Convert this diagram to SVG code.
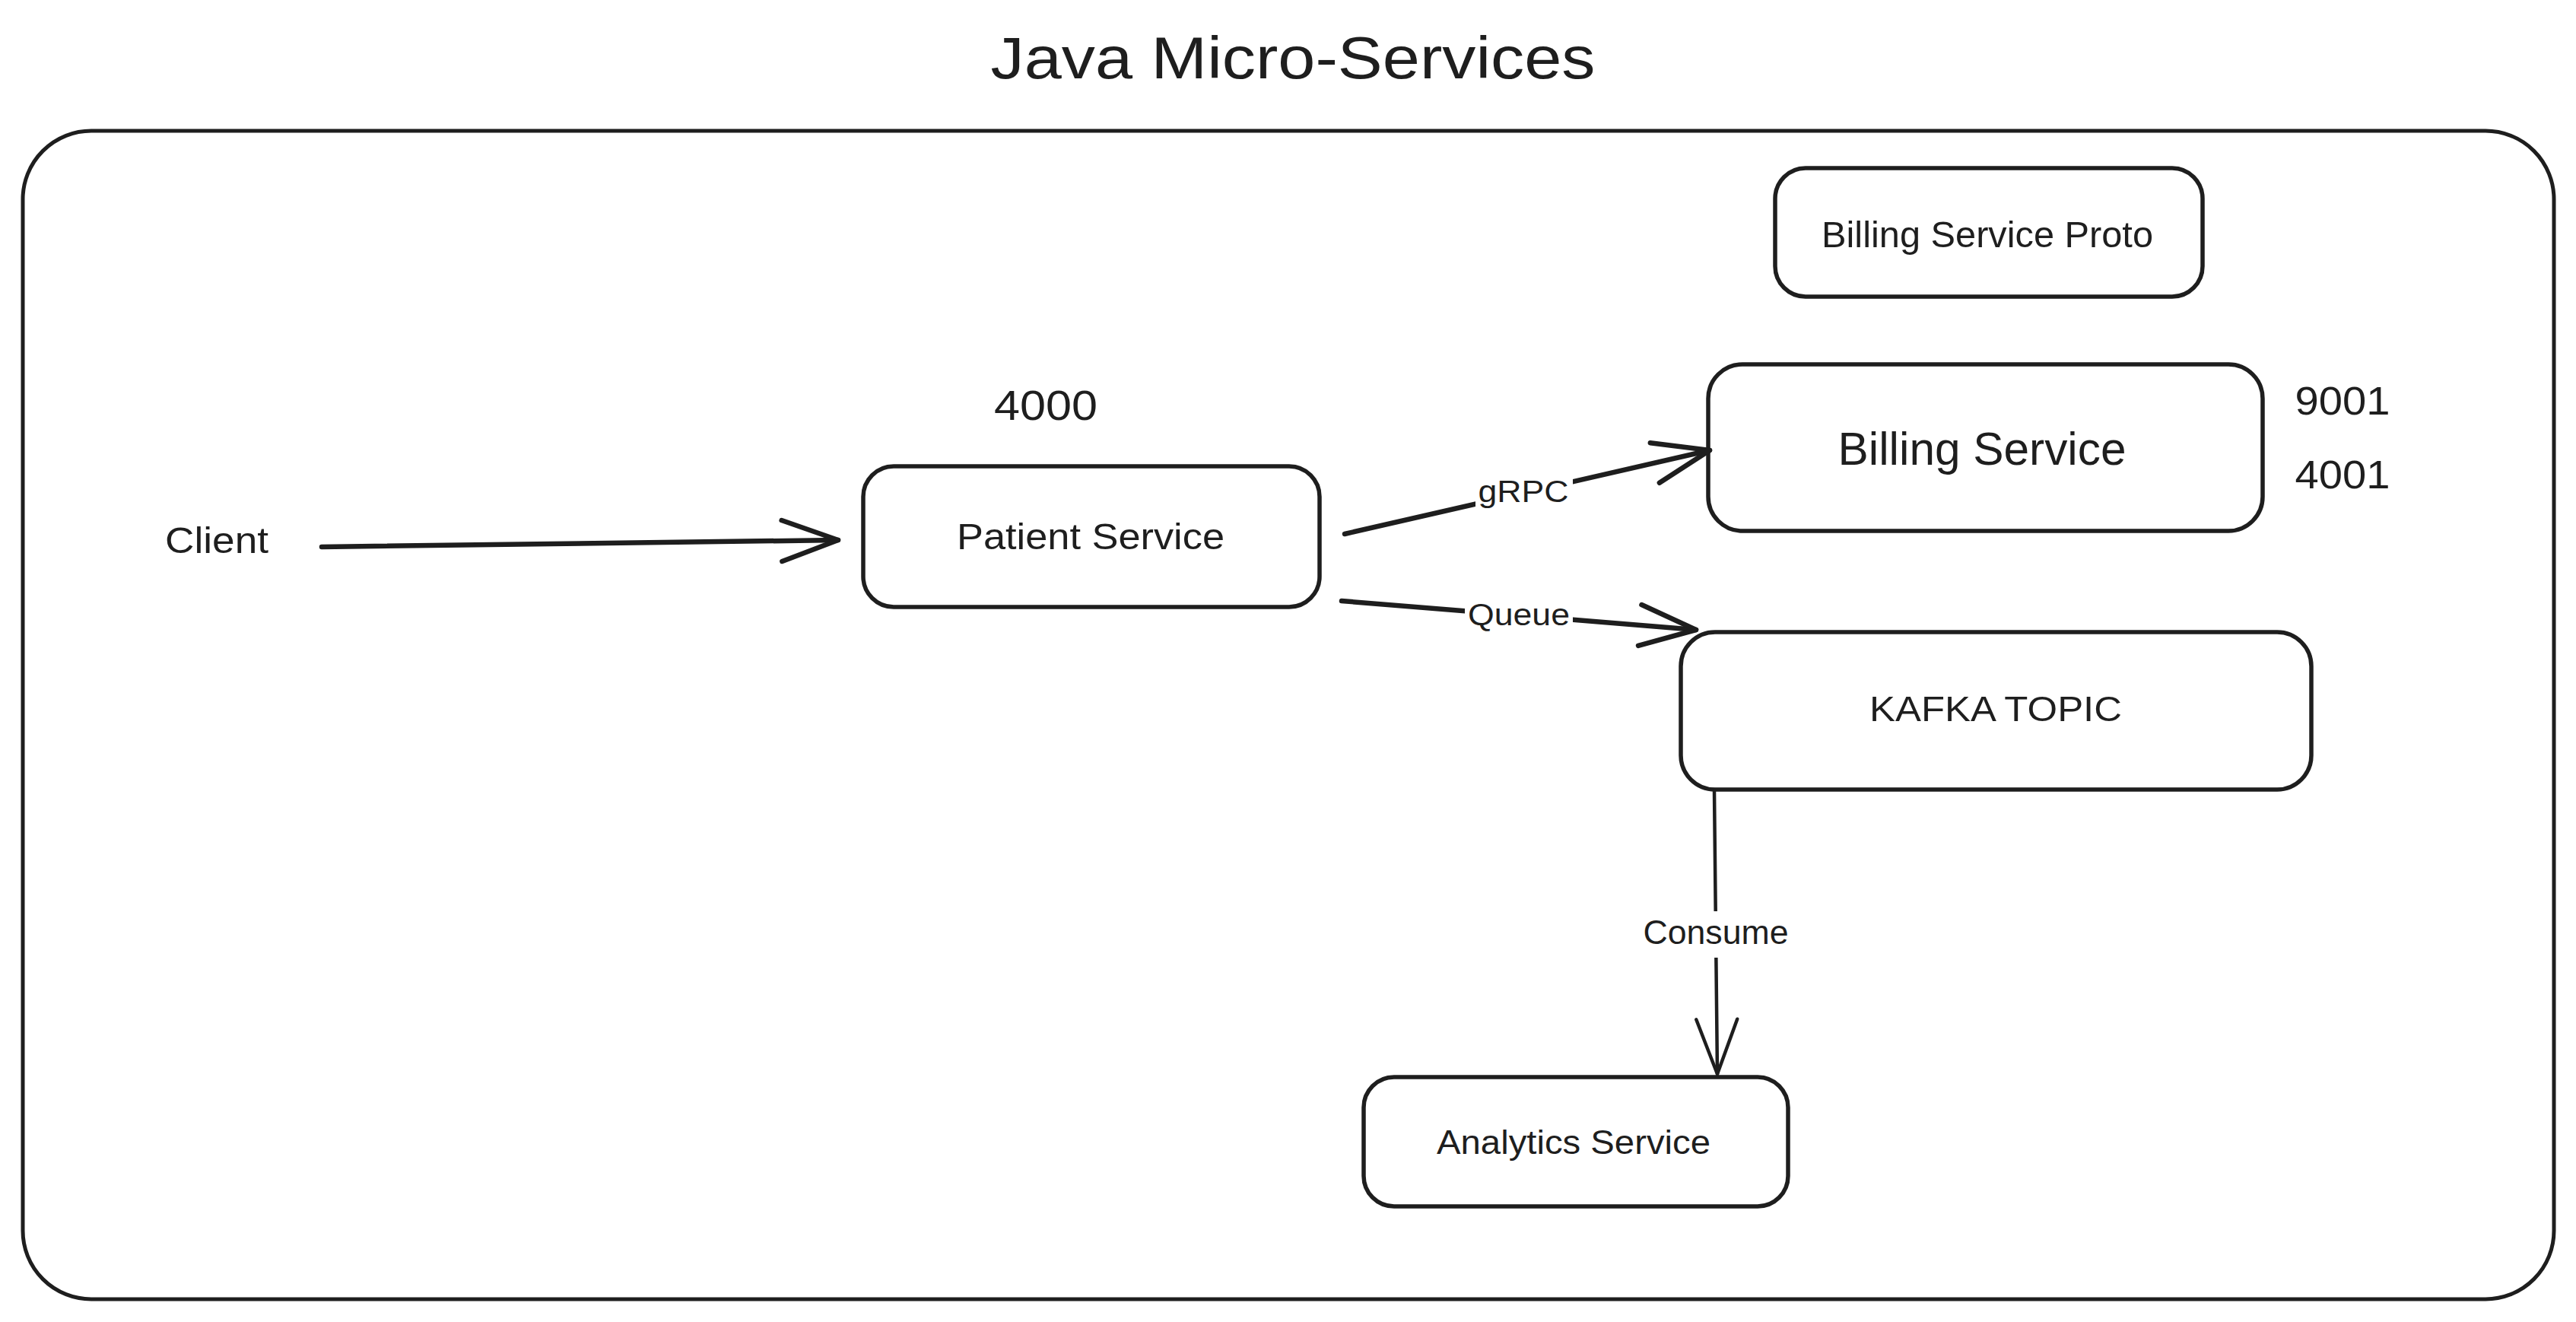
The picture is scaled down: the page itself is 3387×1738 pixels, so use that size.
<svg xmlns="http://www.w3.org/2000/svg" width="3387" height="1738" viewBox="0 0 3387 1738">
<style>
.bx{fill:none;stroke:#1e1e1e;stroke-width:5.5}
.fr{fill:none;stroke:#1e1e1e;stroke-width:5}
.t{font-family:"Liberation Sans","DejaVu Sans",sans-serif;fill:#1e1e1e;text-anchor:middle}
.ln{fill:none;stroke:#1e1e1e;stroke-width:6.5;stroke-linecap:round}
.lnt{fill:none;stroke:#1e1e1e;stroke-width:4.5;stroke-linecap:round}
.gap{fill:#ffffff;stroke:none}
</style>
<defs>
<marker id="arr" viewBox="-90 -40 100 80" refX="0" refY="0" markerWidth="100" markerHeight="80" markerUnits="userSpaceOnUse" orient="auto" overflow="visible">
<path d="M-74,-27 L0,0 L-74,27" fill="none" stroke="#1e1e1e" stroke-width="6.5" stroke-linecap="round" stroke-linejoin="round"/>
</marker>
<marker id="arrt" viewBox="-90 -40 100 80" refX="0" refY="0" markerWidth="100" markerHeight="80" markerUnits="userSpaceOnUse" orient="auto" overflow="visible">
<path d="M-72,-27 L0,0 L-72,27" fill="none" stroke="#1e1e1e" stroke-width="4.5" stroke-linecap="round" stroke-linejoin="round"/>
</marker>
</defs>
<rect width="3387" height="1738" fill="#ffffff"/>
<text id="title" class="t" x="1700" y="103" font-size="77" textLength="795" lengthAdjust="spacingAndGlyphs">Java Micro-Services</text>
<g id="frame"><rect class="fr" x="30" y="172" width="3328" height="1536" rx="90"/></g>
<g id="client"><text class="t" x="285" y="727" font-size="48" textLength="136" lengthAdjust="spacingAndGlyphs">Client</text></g>
<g id="port4000"><text class="t" x="1375" y="552" font-size="56" textLength="136" lengthAdjust="spacingAndGlyphs">4000</text></g>
<g id="patient">
<rect class="bx" x="1135" y="613" width="600" height="185" rx="40"/>
<text class="t" x="1434" y="722" font-size="48" textLength="352" lengthAdjust="spacingAndGlyphs">Patient Service</text>
</g>
<g id="proto">
<rect class="bx" x="2334" y="221" width="562" height="169" rx="40"/>
<text class="t" x="2613" y="325" font-size="48" textLength="436" lengthAdjust="spacingAndGlyphs">Billing Service Proto</text>
</g>
<g id="billing">
<rect class="bx" x="2246" y="479" width="729" height="219" rx="45"/>
<text class="t" x="2606" y="611" font-size="62" textLength="379" lengthAdjust="spacingAndGlyphs">Billing Service</text>
</g>
<g id="ports">
<text class="t" x="3080" y="545" font-size="52" textLength="125" lengthAdjust="spacingAndGlyphs">9001</text>
<text class="t" x="3080" y="642" font-size="52" textLength="125" lengthAdjust="spacingAndGlyphs">4001</text>
</g>
<g id="kafka">
<rect class="bx" x="2210" y="831" width="829" height="207" rx="45"/>
<text class="t" x="2624" y="948" font-size="46" textLength="332" lengthAdjust="spacingAndGlyphs">KAFKA TOPIC</text>
</g>
<g id="analytics">
<rect class="bx" x="1793" y="1416" width="558" height="170" rx="40"/>
<text class="t" x="2069" y="1517" font-size="44" textLength="360" lengthAdjust="spacingAndGlyphs">Analytics Service</text>
</g>
<g id="connectors">
<path class="ln" d="M423,719 L1102,710" marker-end="url(#arr)"/>
<path class="ln" d="M1768,702 L2248,592" marker-end="url(#arr)"/>
<rect class="gap" x="1940" y="615" width="128" height="70"/>
<text class="t" x="2003" y="660" font-size="40" textLength="119" lengthAdjust="spacingAndGlyphs">gRPC</text>
<path class="ln" d="M1764,790 L2230,828" marker-end="url(#arr)"/>
<rect class="gap" x="1926" y="785" width="142" height="50"/>
<text class="t" x="1997" y="822" font-size="40" textLength="134" lengthAdjust="spacingAndGlyphs">Queue</text>
<path class="lnt" d="M2254,1039 L2258,1412" marker-end="url(#arrt)"/>
<rect class="gap" x="2155" y="1198" width="205" height="61"/>
<text class="t" x="2256" y="1241" font-size="44" textLength="191" lengthAdjust="spacingAndGlyphs">Consume</text>
</g>
</svg>
